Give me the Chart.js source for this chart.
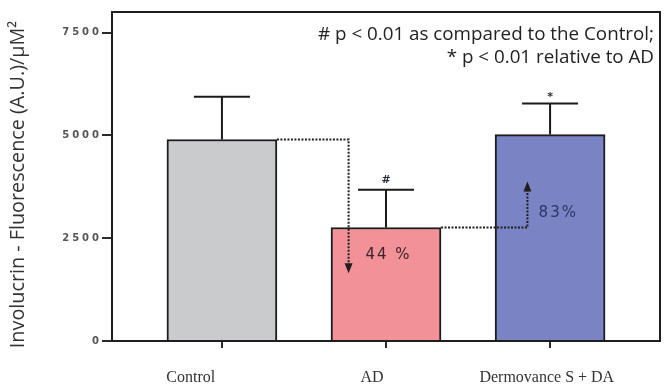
<!DOCTYPE html>
<html><head><meta charset="utf-8">
<script src="https://cdn.jsdelivr.net/npm/chart.js@4"></script>
<style>html,body{margin:0;padding:0;background:#fff}</style>
</head><body>
<canvas id="c" width="668" height="384"></canvas>
<script>
// ---- data ----
const categories = ['Control', 'AD', 'Dermovance S + DA'];
const involucrin = [4900, 2760, 5020];
const errorUpper = [1040, 920, 755];
const significance = ['', '#', '*'];
const yTickValues = [0, 2500, 5000, 7500];
const changeLabels = ['44 %', '83%'];
const noteLines = ['# p < 0.01 as compared to the Control;', '* p < 0.01 relative to AD'];

// ---- styling / layout (not data) ----
const barColors = ['#c9cbcc', '#f29298', '#7a84c4'];
const labelShift = [-0.19, -0.085, -0.02];
const arrows = [
  {from: 0, bendX: 0.772, tipY: 1650, color: '#1f1f1f'},
  {from: 1, bendX: 1.862, tipY: 3880, color: '#1f1f1f'}
];
const changePos = [{x: 1.015, y: 2100, color: '#3a2428'}, {x: 2.05, y: 3120, color: '#2c3566'}];

const overlay = {
  id: 'overlay',
  beforeDraw(chart) {
    const s = chart.scales.y;
    if (!s._ls) {
      const orig = s.drawLabels.bind(s);
      s.drawLabels = function (a) {
        const c = this.ctx; const p = c.letterSpacing;
        c.letterSpacing = '3px'; orig(a); c.letterSpacing = p;
      };
      const origT = s.drawTitle.bind(s);
      s.drawTitle = function () {
        const c = this.ctx; c.save(); c.translate(0, 8); origT(); c.restore();
      };
      s._ls = true;
    }
  },
  afterDatasetsDraw(chart) {
    const ctx = chart.ctx, xs = chart.scales.x, ys = chart.scales.y, a = chart.chartArea;
    const half = 55;
    ctx.save();
    // error bars
    ctx.strokeStyle = '#1a1a1a'; ctx.lineWidth = 2;
    involucrin.forEach((v, i) => {
      const x = xs.getPixelForValue(i), y0 = ys.getPixelForValue(v), y1 = ys.getPixelForValue(v + errorUpper[i]);
      ctx.beginPath(); ctx.moveTo(x, y0); ctx.lineTo(x, y1);
      ctx.moveTo(x - 28, y1); ctx.lineTo(x + 28, y1); ctx.stroke();
      if (significance[i]) {
        ctx.fillStyle = '#2a2a3a'; ctx.font = 'bold 11px "DejaVu Sans"';
        ctx.textAlign = 'center'; ctx.textBaseline = 'middle';
        ctx.fillText(significance[i], x, y1 - (significance[i] === '*' ? 6 : 10));
      }
    });
    // dotted arrows
    arrows.forEach(ar => {
      const x0 = xs.getPixelForValue(ar.from) + half, y0 = ys.getPixelForValue(involucrin[ar.from]);
      const xb = xs.getPixelForValue(ar.bendX), yt = ys.getPixelForValue(ar.tipY);
      const dir = yt > y0 ? 1 : -1;
      ctx.strokeStyle = ar.color; ctx.lineWidth = 2; ctx.setLineDash([2, 1.5]);
      ctx.beginPath(); ctx.moveTo(x0, y0); ctx.lineTo(xb, y0); ctx.lineTo(xb, yt - dir * 9); ctx.stroke();
      ctx.setLineDash([]);
      ctx.fillStyle = ar.color;
      ctx.beginPath(); ctx.moveTo(xb, yt); ctx.lineTo(xb - 4, yt - dir * 10); ctx.lineTo(xb + 4, yt - dir * 10); ctx.closePath(); ctx.fill();
    });
    // change labels
    ctx.font = '15px "DejaVu Sans"'; ctx.letterSpacing = '2px';
    ctx.textAlign = 'center'; ctx.textBaseline = 'middle';
    changeLabels.forEach((t, i) => {
      ctx.fillStyle = changePos[i].color;
      ctx.fillText(t, xs.getPixelForValue(changePos[i].x), ys.getPixelForValue(changePos[i].y));
    });
    ctx.letterSpacing = '0px';
    // notes
    ctx.font = '18.8px "Open Sans"'; ctx.fillStyle = '#222'; ctx.textAlign = 'right';
    noteLines.forEach((t, i) => ctx.fillText(t, a.right - 6, a.top + 23 + i * 23));
    // frame
    ctx.strokeStyle = '#1e1e1e'; ctx.lineWidth = 2;
    ctx.strokeRect(a.left, a.top, a.right - a.left, a.bottom - a.top);
    ctx.restore();
  }
};

new Chart(document.getElementById('c'), {
  type: 'bar',
  data: {
    datasets: [{
      data: categories.map((c, i) => ({x: i, y: involucrin[i]})),
      backgroundColor: barColors,
      borderColor: '#1c1c1c',
      borderWidth: 2,
      barThickness: 110,
      xAxisID: 'x', yAxisID: 'y'
    }]
  },
  options: {
    responsive: false, animation: false, devicePixelRatio: 1,
    layout: {padding: {left: 0, right: 8, top: 12, bottom: 0}},
    plugins: {legend: {display: false}, tooltip: {enabled: false}},
    scales: {
      x: {
        type: 'linear', min: -0.67, max: 2.67, weight: 0, offset: false,
        afterBuildTicks: s => { s.ticks = categories.map((c, i) => ({value: i})); },
        ticks: {display: false},
        grid: {drawOnChartArea: false, offset: false, tickLength: 7, color: '#2a2a2a', lineWidth: 2},
        border: {display: false},
        afterFit: s => { s.height = 7; }
      },
      x2: {
        type: 'linear', position: 'bottom', min: -0.67, max: 2.67, weight: 1, offset: false,
        afterBuildTicks: s => { s.ticks = categories.map((c, i) => ({value: i + labelShift[i]})); },
        ticks: {
          callback: (v, i) => categories[i], autoSkip: false, maxRotation: 0,
          font: {family: 'Liberation Serif', size: 16}, color: '#333', padding: 20
        },
        grid: {display: false, drawTicks: false, offset: false},
        border: {display: false},
        afterFit: s => { s.height = 36; }
      },
      y: {
        type: 'linear', min: 0, max: 8000,
        afterBuildTicks: s => { s.ticks = yTickValues.map(v => ({value: v})); },
        ticks: {callback: v => String(v), font: {family: 'DejaVu Sans', size: 10, weight: 'bold'}, color: '#555', padding: 0},
        grid: {drawOnChartArea: false, tickLength: 10, color: '#2a2a2a', lineWidth: 2},
        border: {display: false},
        title: {display: true, text: 'Involucrin - Fluorescence (A.U.)/μM²', font: {family: 'Open Sans', size: 19.8}, color: '#333', padding: {top: 6, bottom: 0}},
        afterFit: s => { s.width = 112; }
      }
    }
  },
  plugins: [overlay]
});
</script>
</body></html>
